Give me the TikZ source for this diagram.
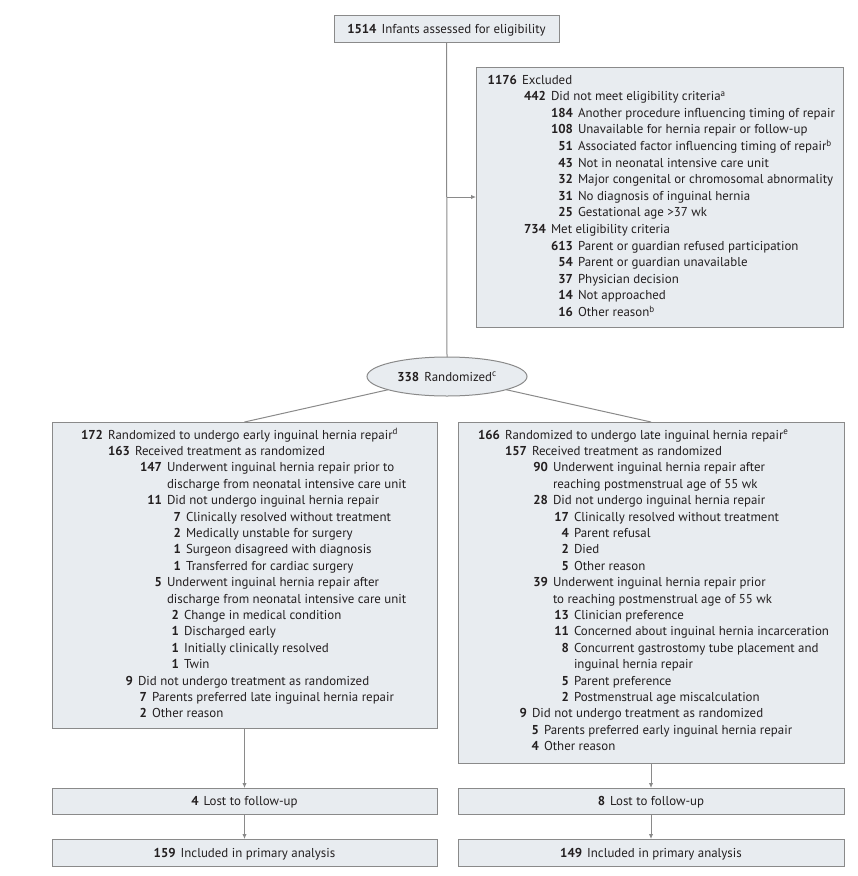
\documentclass[tikz,border=0pt]{standalone}
\usepackage{fontspec}
\setmainfont{PT Sans}
\usetikzlibrary{arrows.meta,shapes.geometric}
\definecolor{boxfill}{HTML}{E8ECF0}
\definecolor{boxline}{HTML}{8A8A8A}
\definecolor{connc}{HTML}{8A8A8A}
\definecolor{ink}{HTML}{231F20}
\newcounter{lncnt}
\tikzset{
 box/.style={draw=boxline, fill=boxfill, line width=1pt, inner sep=0pt, outer sep=0pt},
 numsty/.style={inner sep=0pt, outer sep=0pt, font=\fontsize{12.9}{14}\selectfont\bfseries, text=ink},
 txtsty/.style={inner sep=0pt, outer sep=0pt, font=\fontsize{12.9}{14}\selectfont, text=ink},
 conn/.style={draw=connc, line width=1pt},
 arr/.style={conn, -{Latex[length=5pt,width=4.5pt]}},
}
\newcommand\itm[4]{\stepcounter{lncnt}%
 \node[numsty,anchor=base east] (n\arabic{lncnt}) at (#1,{\by+#2*\bs}) {#3};%
 \node[txtsty,anchor=base west] (t\arabic{lncnt}) at ({#1+5},{\by+#2*\bs}) {#4};}
\newcommand\cnt[3]{\stepcounter{lncnt}%
 \node[txtsty,anchor=base west] (t\arabic{lncnt}) at ({#1+5},{\by+#2*\bs}) {#3};}
\begin{document}
\begin{tikzpicture}[x=1pt,y=-1pt]
\useasboundingbox (0,0) rectangle (858,876);
% boxes
\node[box, minimum width=225pt, minimum height=27pt] (screen) at (446.5,28.5) {};
\node[box, minimum width=367pt, minimum height=260pt] (excl) at (659.5,197) {};
\node[box, ellipse, minimum width=160pt, minimum height=39pt] (rand) at (447,376.5) {};
\node[box, minimum width=385pt, minimum height=306pt] (early) at (244.5,575) {};
\node[box, minimum width=386pt, minimum height=341pt] (late) at (651,592.5) {};
\node[box, minimum width=385pt, minimum height=26pt] (lostE) at (244.5,801) {};
\node[box, minimum width=386pt, minimum height=26pt] (lostL) at (651,801) {};
\node[box, minimum width=385pt, minimum height=27pt] (inclE) at (244.5,852.5) {};
\node[box, minimum width=386pt, minimum height=27pt] (inclL) at (651,852.5) {};
% connectors
\coordinate (br) at (447,197);
\draw[conn] (screen.south) -- (rand.north);
\draw[arr] (br) -- (br -| excl.west);
\draw[conn] (rand) -- (early.north);
\draw[conn] (rand) -- (late.north);
\draw[arr] (early.south) -- (lostE.north);
\draw[arr] (lostE.south) -- (inclE.north);
\draw[arr] (late.south) -- (lostL.north);
\draw[arr] (lostL.south) -- (inclL.north);
% single-line texts
\node[txtsty, anchor=base] (screent) at (446.5,33) {\textbf{1514}\hspace{5pt}Infants assessed for eligibility};
\node[txtsty, anchor=base] (randt) at (447,381) {\textbf{338}\hspace{5pt}Randomized\textsuperscript{c}};
\node[txtsty, anchor=base] (lostEt) at (244.5,805.5) {\textbf{4}\hspace{5pt}Lost to follow-up};
\node[txtsty, anchor=base] (lostLt) at (651,805.5) {\textbf{8}\hspace{5pt}Lost to follow-up};
\node[txtsty, anchor=base] (inclEt) at (244.5,857) {\textbf{159}\hspace{5pt}Included in primary analysis};
\node[txtsty, anchor=base] (inclLt) at (651,857) {\textbf{149}\hspace{5pt}Included in primary analysis};
% excluded box
\def\by{84}\def\bs{16.6}
\itm{517}{0}{1176}{Excluded}
\itm{546}{1}{442}{Did not meet eligibility criteria\textsuperscript{a}}
\itm{573}{2}{184}{Another procedure influencing timing of repair}
\itm{573}{3}{108}{Unavailable for hernia repair or follow-up}
\itm{573}{4}{51}{Associated factor influencing timing of repair\textsuperscript{b}}
\itm{573}{5}{43}{Not in neonatal intensive care unit}
\itm{573}{6}{32}{Major congenital or chromosomal abnormality}
\itm{573}{7}{31}{No diagnosis of inguinal hernia}
\itm{573}{8}{25}{Gestational age >37 wk}
\itm{546}{9}{734}{Met eligibility criteria}
\itm{573}{10}{613}{Parent or guardian refused participation}
\itm{573}{11}{54}{Parent or guardian unavailable}
\itm{573}{12}{37}{Physician decision}
\itm{573}{13}{14}{Not approached}
\itm{573}{14}{16}{Other reason\textsuperscript{b}}
% early box
\def\by{439}\def\bs{16.4}
\itm{103}{0}{172}{Randomized to undergo early inguinal hernia repair\textsuperscript{d}}
\itm{130}{1}{163}{Received treatment as randomized}
\itm{162}{2}{147}{Underwent inguinal hernia repair prior to}
\cnt{162}{3}{discharge from neonatal intensive care unit}
\itm{162}{4}{11}{Did not undergo inguinal hernia repair}
\itm{181}{5}{7}{Clinically resolved without treatment}
\itm{181}{6}{2}{Medically unstable for surgery}
\itm{181}{7}{1}{Surgeon disagreed with diagnosis}
\itm{181}{8}{1}{Transferred for cardiac surgery}
\itm{162}{9}{5}{Underwent inguinal hernia repair after}
\cnt{162}{10}{discharge from neonatal intensive care unit}
\itm{179}{11}{2}{Change in medical condition}
\itm{179}{12}{1}{Discharged early}
\itm{179}{13}{1}{Initially clinically resolved}
\itm{179}{14}{1}{Twin}
\itm{133}{15}{9}{Did not undergo treatment as randomized}
\itm{147}{16}{7}{Parents preferred late inguinal hernia repair}
\itm{147}{17}{2}{Other reason}
% late box
\itm{500}{0}{166}{Randomized to undergo late inguinal hernia repair\textsuperscript{e}}
\itm{527}{1}{157}{Received treatment as randomized}
\itm{548}{2}{90}{Underwent inguinal hernia repair after}
\cnt{548}{3}{reaching postmenstrual age of 55 wk}
\itm{548}{4}{28}{Did not undergo inguinal hernia repair}
\itm{569}{5}{17}{Clinically resolved without treatment}
\itm{569}{6}{4}{Parent refusal}
\itm{569}{7}{2}{Died}
\itm{569}{8}{5}{Other reason}
\itm{548}{9}{39}{Underwent inguinal hernia repair prior}
\cnt{548}{10}{to reaching postmenstrual age of 55 wk}
\itm{569}{11}{13}{Clinician preference}
\itm{569}{12}{11}{Concerned about inguinal hernia incarceration}
\itm{569}{13}{8}{Concurrent gastrostomy tube placement and}
\cnt{569}{14}{inguinal hernia repair}
\itm{569}{15}{5}{Parent preference}
\itm{569}{16}{2}{Postmenstrual age miscalculation}
\itm{527}{17}{9}{Did not undergo treatment as randomized}
\itm{539}{18}{5}{Parents preferred early inguinal hernia repair}
\itm{539}{19}{4}{Other reason}
\end{tikzpicture}
\end{document}
